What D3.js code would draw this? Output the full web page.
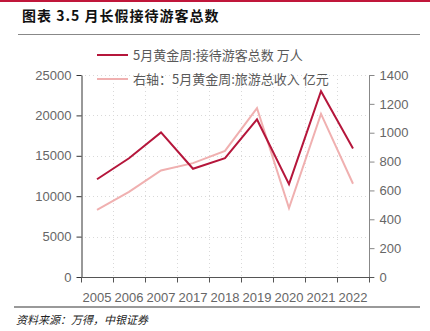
<!DOCTYPE html>
<html>
<head>
<meta charset="utf-8">
<script src="https://cdn.jsdelivr.net/npm/d3@7"></script>
<style>
  body { margin: 0; background: #fff; }
  svg { display: block; }
</style>
</head>
<body>
<div id="chart"></div>
<script>
// categories and series
const years = ['2005', '2006', '2007', '2017', '2018', '2019', '2020', '2021', '2022'];
const visitors = [12100, 14700, 17900, 13400, 14700, 19500, 11500, 23000, 15900];
const revenue = [466, 590, 738, 789, 874, 1170, 477, 1130, 646];
const leftTicks = [0, 5000, 10000, 15000, 20000, 25000];
const rightTicks = [0, 200, 400, 600, 800, 1000, 1200, 1400];
const legendLabels = ['5月黄金周:接待游客总数 万人', '右轴：5月黄金周:旅游总收入 亿元'];

const width = 430;
const height = 331;
const plot = { left: 81, right: 369, top: 75, bottom: 277 };
const red = '#b5163b';
const pink = '#f0b0b0';
const font = '"Liberation Sans", Arial, sans-serif';
const formatAxis = d3.format('d');

const svg = d3.select('#chart')
  .append('svg')
  .attr('width', width)
  .attr('height', height);

// header and footer
svg.append('rect')
  .attr('x', 0).attr('y', 0)
  .attr('width', width).attr('height', 2)
  .attr('fill', '#c0163a');

svg.append('text')
  .attr('x', 22)
  .attr('y', 21)
  .attr('font-family', '"Noto Sans CJK SC", sans-serif')
  .attr('font-size', 14)
  .attr('font-weight', 'bold')
  .attr('letter-spacing', 1)
  .attr('fill', '#111')
  .text('图表 3.5 月长假接待游客总数');

svg.append('line')
  .attr('x1', 18).attr('x2', 420)
  .attr('y1', 34.5).attr('y2', 34.5)
  .attr('stroke', '#888')
  .attr('stroke-width', 1);

svg.append('line')
  .attr('x1', 14).attr('x2', 420)
  .attr('y1', 307).attr('y2', 307)
  .attr('stroke', '#999')
  .attr('stroke-width', 2);

svg.append('text')
  .attr('x', 16)
  .attr('y', 324)
  .attr('font-family', '"Noto Sans CJK SC", sans-serif')
  .attr('font-size', 11)
  .attr('font-style', 'italic')
  .attr('fill', '#222')
  .text('资料来源：万得，中银证券');

// scales
const x = d3.scaleBand()
  .domain(years)
  .range([plot.left, plot.right]);

const yLeft = d3.scaleLinear()
  .domain([0, 25000])
  .range([plot.bottom, plot.top]);

const yRight = d3.scaleLinear()
  .domain([0, 1400])
  .range([plot.bottom, plot.top]);

// grid
const grid = svg.append('g');
grid.selectAll('.hgrid')
  .data(leftTicks.slice(1))
  .enter()
  .append('line')
  .attr('x1', plot.left).attr('x2', plot.right)
  .attr('y1', d => Math.round(yLeft(d)) + 0.5)
  .attr('y2', d => Math.round(yLeft(d)) + 0.5)
  .attr('stroke', '#d9d9d9')
  .attr('stroke-dasharray', '1,3');

grid.selectAll('.vgrid')
  .data(years.slice(1))
  .enter()
  .append('line')
  .attr('x1', d => Math.round(x(d)) + 0.5)
  .attr('x2', d => Math.round(x(d)) + 0.5)
  .attr('y1', plot.top).attr('y2', plot.bottom)
  .attr('stroke', '#d9d9d9')
  .attr('stroke-dasharray', '1,3');

// axes
const leftAxis = svg.append('g')
  .attr('transform', `translate(${plot.left + 0.5},0)`)
  .call(d3.axisLeft(yLeft).tickValues(leftTicks).tickFormat(formatAxis)
    .tickSize(5).tickSizeOuter(0));
leftAxis.select('.domain').attr('stroke', '#333');
leftAxis.selectAll('.tick line').attr('stroke', '#333');
leftAxis.selectAll('text')
  .attr('font-family', font)
  .attr('font-size', 13)
  .attr('fill', '#666')
  .attr('dx', '-2');

const rightAxis = svg.append('g')
  .attr('transform', `translate(${plot.right + 0.5},0)`)
  .call(d3.axisRight(yRight).tickValues(rightTicks).tickFormat(formatAxis)
    .tickSize(5).tickSizeOuter(0));
rightAxis.select('.domain')
  .attr('stroke', '#888')
  .attr('d', `M0,${plot.top}V${plot.bottom + 4}`);
rightAxis.selectAll('.tick line').attr('stroke', '#888');
rightAxis.selectAll('text')
  .attr('font-family', font)
  .attr('font-size', 13)
  .attr('fill', '#666')
  .attr('dx', '2');

// x axis: ticks on category boundaries
const xAxis = svg.append('g')
  .attr('transform', `translate(0,${plot.bottom + 0.5})`);
xAxis.append('line')
  .attr('x1', plot.left).attr('x2', plot.right + 5)
  .attr('stroke', '#555');
xAxis.selectAll('.xtick')
  .data(years.concat(['end']))
  .enter()
  .append('line')
  .attr('x1', d => Math.round(d === 'end' ? plot.right : x(d)) + 0.5)
  .attr('x2', d => Math.round(d === 'end' ? plot.right : x(d)) + 0.5)
  .attr('y1', 0).attr('y2', 5)
  .attr('stroke', '#555');
xAxis.selectAll('.xlabel')
  .data(years)
  .enter()
  .append('text')
  .attr('x', d => x(d) + x.bandwidth() / 2)
  .attr('y', 24)
  .attr('text-anchor', 'middle')
  .attr('font-family', font)
  .attr('font-size', 13)
  .attr('fill', '#666')
  .text(d => d);

// series
const cx = d => x(d) + x.bandwidth() / 2;

svg.append('path')
  .datum(revenue)
  .attr('fill', 'none')
  .attr('stroke', pink)
  .attr('stroke-width', 2)
  .attr('stroke-linejoin', 'miter')
  .attr('d', d3.line()
    .x((d, i) => cx(years[i]))
    .y(d => yRight(d)));

svg.append('path')
  .datum(visitors)
  .attr('fill', 'none')
  .attr('stroke', red)
  .attr('stroke-width', 2)
  .attr('stroke-linejoin', 'miter')
  .attr('d', d3.line()
    .x((d, i) => cx(years[i]))
    .y(d => yLeft(d)));

// legend
const legend = svg.append('g');
const legendRows = legend.selectAll('g')
  .data(legendLabels)
  .enter()
  .append('g')
  .attr('transform', (d, i) => `translate(97,${55 + i * 24})`);
legendRows.append('line')
  .attr('x1', 0).attr('x2', 31)
  .attr('stroke', (d, i) => (i === 0 ? red : pink))
  .attr('stroke-width', 2);
legendRows.append('text')
  .attr('x', 36)
  .attr('y', 5)
  .attr('font-family', '"Noto Sans CJK SC", sans-serif')
  .attr('font-size', 13)
  .attr('fill', '#595959')
  .text(d => d);
</script>
</body>
</html>
